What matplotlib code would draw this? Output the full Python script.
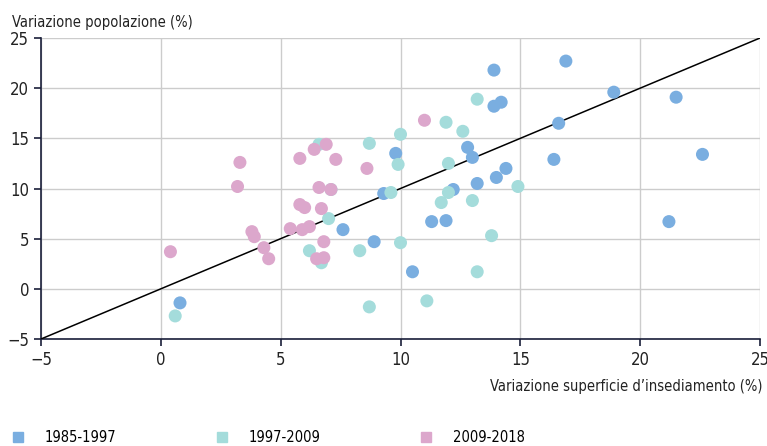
import matplotlib.pyplot as plt
from matplotlib.lines import Line2D

plt.rcParams['font.family'] = ['DejaVu Sans']
plt.rcParams['font.stretch'] = 'condensed'

# data
periods = ["1985-1997", "1997-2009", "2009-2018"]
colors = ["#7aaee0", "#a4dcdb", "#dca7cc"]

x_8597 = [0.8, 7.6, 8.9, 9.8, 9.3, 10.5, 11.3, 11.9, 12.2, 13.2, 14.0, 14.4,
          13.0, 12.8, 13.9, 14.2, 13.9, 16.9, 16.6, 16.4, 18.9, 21.5, 22.6, 21.2]
y_8597 = [-1.4, 5.9, 4.7, 13.5, 9.5, 1.7, 6.7, 6.8, 9.9, 10.5, 11.1, 12.0,
          13.1, 14.1, 18.2, 18.6, 21.8, 22.7, 16.5, 12.9, 19.6, 19.1, 13.4, 6.7]

x_9709 = [0.6, 6.6, 7.1, 7.0, 6.2, 6.7, 8.3, 8.7, 8.7, 10.0, 9.9, 9.6,
          10.0, 11.1, 13.2, 13.8, 11.7, 13.0, 12.0, 14.9, 12.0, 12.6, 11.9, 13.2]
y_9709 = [-2.7, 14.4, 9.9, 7.0, 3.8, 2.6, 3.8, 14.5, -1.8, 15.4, 12.4, 9.6,
          4.6, -1.2, 1.7, 5.3, 8.6, 8.8, 9.6, 10.2, 12.5, 15.7, 16.6, 18.9]

x_0918 = [0.4, 3.3, 3.2, 3.8, 3.9, 4.3, 4.5, 5.4, 5.8, 5.8, 6.0, 5.9,
          6.2, 6.4, 6.9, 7.3, 6.6, 7.1, 6.7, 6.8, 6.5, 6.8, 8.6, 11.0]
y_0918 = [3.7, 12.6, 10.2, 5.7, 5.2, 4.1, 3.0, 6.0, 13.0, 8.4, 8.1, 5.9,
          6.2, 13.9, 14.4, 12.9, 10.1, 9.9, 8.0, 4.7, 3.0, 3.1, 12.0, 16.8]

ticks = [-5, 0, 5, 10, 15, 20, 25]

fig = plt.figure(figsize=(7.67, 4.46), dpi=100)
ax = fig.add_axes([41 / 767, 107 / 446, 719 / 767, 301 / 446])

ax.plot([-5, 25], [-5, 25], color='black', lw=1.1, zorder=3)
for xs, ys, c in zip([x_8597, x_9709, x_0918], [y_8597, y_9709, y_0918], colors):
    ax.scatter(xs, ys, s=88, color=c, edgecolors='none', zorder=4, clip_on=False)

ax.set_xlim(-5, 25)
ax.set_ylim(-5, 25)
ax.set_xticks(ticks)
ax.set_yticks(ticks)
ax.grid(True, color='#cccccc', lw=1)
ax.set_axisbelow(True)
for s in ['top', 'right']:
    ax.spines[s].set_visible(False)
for s in ['left', 'bottom']:
    ax.spines[s].set_color('#1a1f3a')
    ax.spines[s].set_linewidth(1.2)
ax.tick_params(colors='#1a1f3a', labelcolor='#222222', labelsize=12,
               length=5, width=1.2, direction='out')

fig.text(12 / 767, 1 - 23 / 446, "Variazione popolazione (%)", fontsize=10.5,
         ha='left', va='center', color='#222222')
fig.text(763 / 767, 1 - 387 / 446, "Variazione superficie d\u2019insediamento (%)",
         fontsize=10.5, ha='right', va='center', color='#222222')

handles = [Line2D([], [], marker='s', ls='none', color=c, markersize=7.5) for c in colors]
fig.legend(handles, periods, loc='center left', bbox_to_anchor=(11.7 / 767, 1 - 438 / 446),
           ncol=3, frameon=False, fontsize=10.5, handlelength=0.8, handletextpad=1.48,
           columnspacing=6.8, borderpad=0, borderaxespad=0)

fig.savefig('out.png', dpi=100)
